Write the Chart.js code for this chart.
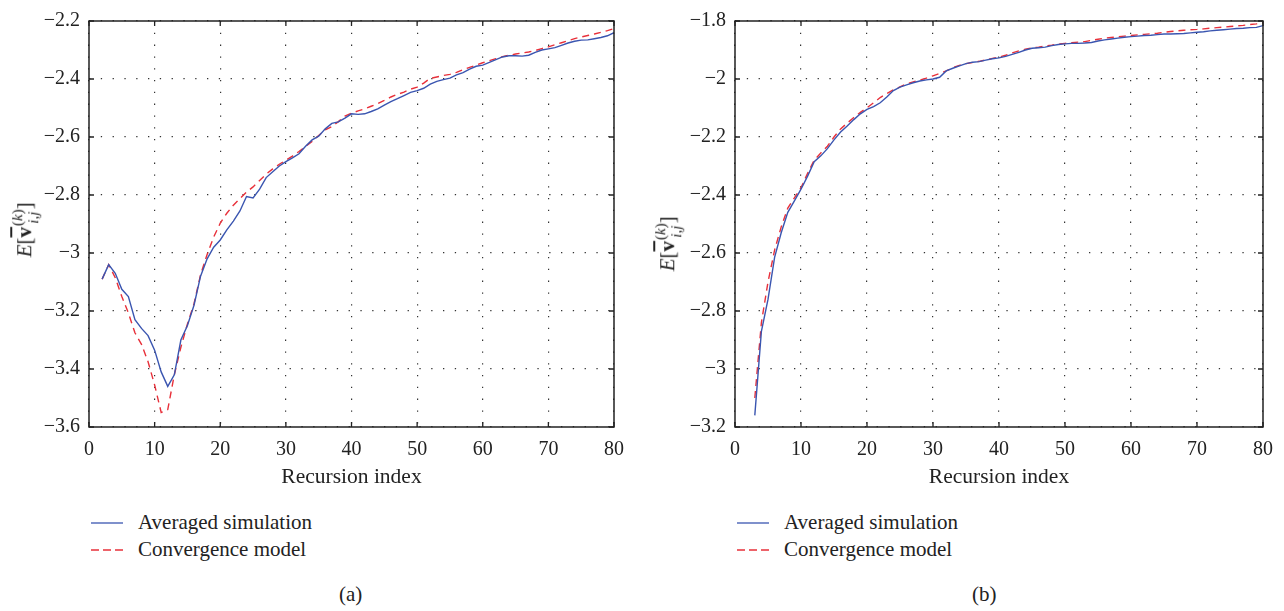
<!DOCTYPE html>
<html>
<head>
<meta charset="utf-8">
<script src="https://cdn.jsdelivr.net/npm/chart.js@4/dist/chart.umd.min.js"></script>
<style>
  html, body { margin:0; padding:0; background:#fff; }
  body { width:1284px; height:611px; position:relative; overflow:hidden; font-family:"Liberation Serif", "DejaVu Serif", serif; color:#222; }
  .cv { position:absolute; }
  .ytitle { position:absolute; font-size:21px; white-space:nowrap; transform:rotate(-90deg); transform-origin:center center; line-height:1; }
  .ytitle .ss { display:inline-flex; flex-direction:column; font-size:15px; vertical-align:middle; line-height:1.05; margin-left:1px; }
  .legend { position:absolute; font-size:21px; line-height:27px; }
  .legend div { display:flex; align-items:center; }
  .legend svg { margin-right:15px; }
  .cap { position:absolute; font-size:21px; }
</style>
</head>
<body>
<div class="cv" style="left:0;top:0;width:640px;height:500px;"><canvas id="ca"></canvas></div>
<div class="cv" style="left:640px;top:0;width:644px;height:500px;"><canvas id="cb"></canvas></div>

<div class="ytitle" style="left:-9px;top:214px;width:70px;text-align:center;"><i>E</i>[<b style="text-decoration:overline">v</b><span class="ss"><span>(<i>k</i>)</span><span><i>i,j</i></span></span>]</div>
<div class="ytitle" style="left:634px;top:228px;width:70px;text-align:center;"><i>E</i>[<b style="text-decoration:overline">v</b><span class="ss"><span>(<i>k</i>)</span><span><i>i,j</i></span></span>]</div>

<div class="legend" style="left:91px;top:509px;">
  <div><svg width="32" height="4"><line x1="0" y1="2" x2="32" y2="2" stroke="#3a55b0" stroke-width="1.3"/></svg>Averaged simulation</div>
  <div><svg width="32" height="4"><line x1="0" y1="2" x2="32" y2="2" stroke="#e8303a" stroke-width="1.3" stroke-dasharray="8,4"/></svg>Convergence model</div>
</div>
<div class="legend" style="left:737px;top:509px;">
  <div><svg width="32" height="4"><line x1="0" y1="2" x2="32" y2="2" stroke="#3a55b0" stroke-width="1.3"/></svg>Averaged simulation</div>
  <div><svg width="32" height="4"><line x1="0" y1="2" x2="32" y2="2" stroke="#e8303a" stroke-width="1.3" stroke-dasharray="8,4"/></svg>Convergence model</div>
</div>
<div class="cap" style="left:339px;top:582px;">(a)</div>
<div class="cap" style="left:972px;top:582px;">(b)</div>

<script>
// ---- Data ----
const xTicksLabels = [0, 10, 20, 30, 40, 50, 60, 70, 80];

const kA = [2,3,4,5,6,7,8,9,10,11,12,13,14,15,16,17,18,19,20,21,22,23,24,25,26,27,28,29,30,31,32,33,34,35,36,37,38,39,40,41,42,43,44,45,46,47,48,49,50,51,52,53,54,55,56,57,58,59,60,61,62,63,64,65,66,67,68,69,70,71,72,73,74,75,76,77,78,79,80];
const simA = [-3.09,-3.04,-3.07,-3.125,-3.15,-3.23,-3.26,-3.285,-3.335,-3.41,-3.46,-3.42,-3.30,-3.25,-3.18,-3.08,-3.02,-2.98,-2.955,-2.92,-2.89,-2.855,-2.805,-2.81,-2.78,-2.74,-2.72,-2.70,-2.685,-2.672,-2.658,-2.632,-2.61,-2.597,-2.572,-2.553,-2.548,-2.535,-2.52,-2.522,-2.52,-2.512,-2.503,-2.49,-2.478,-2.468,-2.457,-2.446,-2.44,-2.432,-2.418,-2.408,-2.402,-2.397,-2.386,-2.378,-2.366,-2.356,-2.352,-2.343,-2.333,-2.324,-2.32,-2.32,-2.321,-2.318,-2.308,-2.30,-2.296,-2.292,-2.284,-2.276,-2.27,-2.266,-2.265,-2.261,-2.257,-2.251,-2.24];
const modelA = [-3.09,-3.04,-3.085,-3.15,-3.207,-3.275,-3.315,-3.375,-3.455,-3.55,-3.54,-3.42,-3.325,-3.245,-3.175,-3.075,-3.005,-2.945,-2.897,-2.863,-2.835,-2.812,-2.79,-2.772,-2.75,-2.728,-2.71,-2.694,-2.68,-2.666,-2.65,-2.633,-2.615,-2.595,-2.575,-2.564,-2.547,-2.528,-2.518,-2.51,-2.503,-2.494,-2.485,-2.474,-2.462,-2.453,-2.445,-2.435,-2.428,-2.414,-2.398,-2.393,-2.388,-2.384,-2.377,-2.368,-2.36,-2.352,-2.344,-2.337,-2.33,-2.323,-2.318,-2.314,-2.31,-2.307,-2.302,-2.295,-2.289,-2.282,-2.275,-2.268,-2.261,-2.255,-2.25,-2.245,-2.239,-2.233,-2.226];

const kB = [3,4,5,6,7,8,9,10,11,12,13,14,15,16,17,18,19,20,21,22,23,24,25,26,27,28,29,30,31,32,33,34,35,36,37,38,39,40,41,42,43,44,45,46,47,48,49,50,51,52,53,54,55,56,57,58,59,60,61,62,63,64,65,66,67,68,69,70,71,72,73,74,75,76,77,78,79,80];
const simB = [-3.16,-2.87,-2.76,-2.615,-2.53,-2.46,-2.42,-2.38,-2.335,-2.285,-2.265,-2.24,-2.21,-2.183,-2.162,-2.14,-2.12,-2.105,-2.095,-2.082,-2.062,-2.04,-2.028,-2.02,-2.013,-2.007,-2.003,-2.0,-1.994,-1.972,-1.963,-1.955,-1.947,-1.942,-1.94,-1.935,-1.93,-1.927,-1.922,-1.915,-1.908,-1.90,-1.894,-1.892,-1.89,-1.885,-1.881,-1.879,-1.877,-1.877,-1.876,-1.874,-1.869,-1.865,-1.862,-1.859,-1.856,-1.854,-1.852,-1.85,-1.849,-1.847,-1.845,-1.845,-1.844,-1.843,-1.841,-1.839,-1.837,-1.834,-1.832,-1.83,-1.828,-1.826,-1.825,-1.823,-1.822,-1.816];
const modelB = [-3.10,-2.84,-2.70,-2.59,-2.51,-2.445,-2.41,-2.375,-2.325,-2.28,-2.255,-2.232,-2.20,-2.172,-2.152,-2.133,-2.115,-2.099,-2.082,-2.064,-2.05,-2.037,-2.027,-2.017,-2.01,-2.004,-1.997,-1.989,-1.981,-1.972,-1.961,-1.953,-1.947,-1.943,-1.939,-1.934,-1.929,-1.925,-1.918,-1.91,-1.903,-1.897,-1.893,-1.89,-1.886,-1.883,-1.879,-1.877,-1.875,-1.873,-1.871,-1.867,-1.863,-1.859,-1.857,-1.855,-1.852,-1.85,-1.848,-1.846,-1.844,-1.842,-1.839,-1.836,-1.834,-1.832,-1.83,-1.829,-1.827,-1.825,-1.823,-1.821,-1.819,-1.817,-1.815,-1.812,-1.81,-1.807];

const yTicksA = [-3.6,-3.4,-3.2,-3,-2.8,-2.6,-2.4,-2.2];
const yTicksB = [-3.2,-3,-2.8,-2.6,-2.4,-2.2,-2,-1.8];

const seriesNames = ['Averaged simulation', 'Convergence model'];
const xTitle = 'Recursion index';

// ---- Helpers ----
const FONT = { family: '"Liberation Serif", "DejaVu Serif", serif', size: 20 };
const TFONT = { family: '"Liberation Serif", "DejaVu Serif", serif', size: 21.5 };
const TXT = '#222';
function fmt(v) { const n = Math.round(v * 10) / 10; return String(n).replace('-', '\u2212'); }
function pts(xs, ys) { return xs.map((x, i) => ({ x: x, y: ys[i] })); }

const boxPlugin = {
  id: 'box',
  afterDraw(chart) {
    const { ctx, chartArea: a, scales } = chart;
    ctx.save();
    ctx.strokeStyle = '#222';
    ctx.lineWidth = 1.5;
    ctx.strokeRect(a.left, a.top, a.right - a.left, a.bottom - a.top);
    ctx.lineWidth = 1.3;
    const L = 5;
    ctx.beginPath();
    scales.x.ticks.forEach(t => {
      const px = scales.x.getPixelForValue(t.value);
      ctx.moveTo(px, a.bottom); ctx.lineTo(px, a.bottom - L);
      ctx.moveTo(px, a.top); ctx.lineTo(px, a.top + L);
    });
    scales.y.ticks.forEach(t => {
      const py = scales.y.getPixelForValue(t.value);
      ctx.moveTo(a.left, py); ctx.lineTo(a.left + L, py);
      ctx.moveTo(a.right, py); ctx.lineTo(a.right - L, py);
    });
    ctx.stroke();
    ctx.restore();
  }
};

function makeChart(id, xs, sim, model, yTicks, yAxisW, pad) {
  const ymin = yTicks[0], ymax = yTicks[yTicks.length - 1];
  return new Chart(document.getElementById(id), {
    type: 'line',
    data: {
      datasets: [
        { label: seriesNames[0], data: pts(xs, sim), borderColor: '#3a55b0', borderWidth: 1.4, pointRadius: 0, tension: 0, fill: false },
        { label: seriesNames[1], data: pts(xs, model), borderColor: '#e8303a', borderWidth: 1.4, borderDash: [7, 5], pointRadius: 0, tension: 0, fill: false }
      ]
    },
    options: {
      responsive: true,
      maintainAspectRatio: false,
      animation: false,
      layout: { padding: pad },
      plugins: { legend: { display: false }, tooltip: { enabled: false } },
      scales: {
        x: {
          type: 'linear', min: xTicksLabels[0], max: xTicksLabels[xTicksLabels.length - 1],
          afterBuildTicks: s => { s.ticks = xTicksLabels.map(v => ({ value: v })); },
          afterFit: s => { s.height = 73; },
          grid: { color: '#333', lineWidth: 1.2, drawTicks: false },
          border: { display: false, dash: [1.3, 10.5] },
          ticks: { font: FONT, color: TXT, padding: 11, maxRotation: 0, autoSkip: false, callback: v => String(v) },
          title: { display: true, text: xTitle, font: TFONT, color: TXT, padding: { top: 4, bottom: 10 } }
        },
        y: {
          type: 'linear', min: ymin, max: ymax,
          afterBuildTicks: s => { s.ticks = yTicks.map(v => ({ value: v })); },
          afterFit: s => { s.width = yAxisW; },
          grid: { color: '#333', lineWidth: 1.2, drawTicks: false },
          border: { display: false, dash: [1.3, 10.5] },
          ticks: { font: FONT, color: TXT, padding: 9, autoSkip: false, callback: v => fmt(v) }
        }
      }
    },
    plugins: [boxPlugin]
  });
}

makeChart('ca', kA, simA, modelA, yTicksA, 89, { top: 14, right: 26, bottom: 0, left: 0 });
makeChart('cb', kB, simB, modelB, yTicksB, 95, { top: 5, right: 21, bottom: 0, left: 0 });
</script>
</body>
</html>
